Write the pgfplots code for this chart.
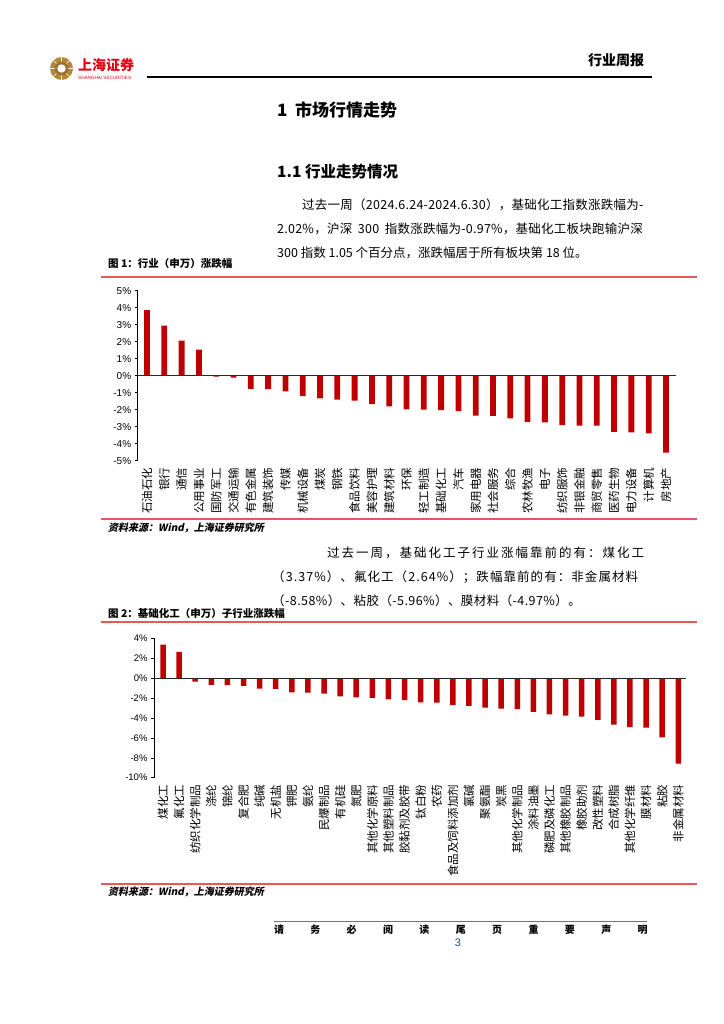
\documentclass[border=0pt]{standalone}
\usepackage{fontspec}
\setmainfont{Noto Sans CJK SC}
\newfontfamily\arial{Liberation Sans}
\newfontfamily\srcfont{Noto Sans CJK SC}[FakeSlant=0.2]
\usepackage{pgfplots}
\pgfplotsset{compat=1.18}
\usepackage{pgfplotstable}
\definecolor{barred}{RGB}{192,0,0}
\definecolor{linered}{RGB}{240,85,85}
\definecolor{gold}{RGB}{184,134,59}
\definecolor{logored}{RGB}{230,0,18}
\definecolor{pgblue}{RGB}{31,78,121}
\newcommand\fs[1]{\fontsize{#1bp}{#1bp}\selectfont}
\newcommand\ls[1]{\addfontfeature{LetterSpace=#1}}

\pgfplotstableread{
x y
0 3.86
1 2.94
2 2.06
3 1.53
4 -0.06
5 -0.12
6 -0.78
7 -0.79
8 -0.92
9 -1.20
10 -1.33
11 -1.41
12 -1.47
13 -1.67
14 -1.80
15 -1.98
16 -2.00
17 -2.02
18 -2.08
19 -2.35
20 -2.36
21 -2.51
22 -2.71
23 -2.75
24 -2.90
25 -2.93
26 -2.94
27 -3.31
28 -3.33
29 -3.39
30 -4.53
}\tabA

\pgfplotstableread{
x y
0 3.37
1 2.64
2 -0.34
3 -0.68
4 -0.71
5 -0.78
6 -1.05
7 -1.08
8 -1.42
9 -1.46
10 -1.56
11 -1.83
12 -1.93
13 -1.97
14 -2.14
15 -2.20
16 -2.44
17 -2.47
18 -2.71
19 -2.78
20 -2.95
21 -3.05
22 -3.12
23 -3.39
24 -3.63
25 -3.76
26 -3.86
27 -4.20
28 -4.68
29 -4.93
30 -4.97
31 -5.96
32 -8.58
}\tabB

\pgfplotsset{chg/.style={
  scale only axis,
  axis lines*=left,
  x axis line style={draw=none},
  y axis line style={black, line width=0.6bp},
  major x tick style={draw=none},
  major y tick style={black, line width=0.5bp},
  tick align=outside,
  major tick length=3bp,
  yticklabel={\pgfmathprintnumber{\tick}\%},
  /pgf/number format/assume math mode=true,
  y tick label style={font=\arial\fs{10}},
  x tick label style={rotate=90, anchor=east, font=\fs{11.5}, inner sep=1bp},
  xticklabel shift=3bp,
  clip=false,
}}

\begin{document}
\begin{tikzpicture}
\path[use as bounding box] (0,0) rectangle (724bp,-1024bp);
\fill[white] (0,0) rectangle (724bp,-1024bp);

\begin{scope}[x=1bp,y=-1bp]
% header
\fill[gold] (61.5,68.5) circle (11.5);
\foreach \a in {0,45,...,315} \draw[white, line width=0.6bp] (61.5,68.5) -- ++(\a:11.5);
\fill[gold!85!black] (61.5,68.5) circle (7);
\fill[white] (61.5,68.5) circle (4.2);
\node[anchor=west, inner sep=0, text=logored, font=\fs{14}\bfseries] at (78,65) {上海证券};
\node[anchor=west, inner sep=0, text=logored, font=\arial\fs{4.6}] at (78,77.5) {SHANGHAI SECURITIES};
\node[anchor=west, inner sep=0, font=\fs{14}\bfseries] at (588,60) {行业周报};
\draw[line width=1.6bp] (147,77) -- (652,77);

\node[anchor=west, inner sep=0, font=\fs{17}\bfseries] at (277,110) {1\hspace{0.45em}市场行情走势};
\node[anchor=west, inner sep=0, font=\fs{15.5}\bfseries] at (277,172) {1.1 行业走势情况};

\node[anchor=west, inner sep=0, font=\fs{12.5}\ls{2}] at (302,205) {过去一周（2024.6.24-2024.6.30），基础化工指数涨跌幅为-};
\node[anchor=west, inner sep=0, font=\fs{12.5}\ls{2}] at (277,229) {2.02\%，沪深\hspace{0.45em}300\hspace{0.45em}指数涨跌幅为-0.97\%，基础化工板块跑输沪深};
\node[anchor=west, inner sep=0, font=\fs{12.5}] at (277,253) {300 指数 1.05 个百分点，涨跌幅居于所有板块第 18 位。};

\node[anchor=west, inner sep=0, font=\fs{10.5}\bfseries] at (108,264) {图 1：行业（申万）涨跌幅};
\draw[linered, line width=1.2bp] (101,277) -- (697,277);

\draw[linered, line width=1.2bp] (101,519) -- (697,519);
\node[anchor=west, inner sep=0, font=\srcfont\bfseries\fs{10}] at (108,528) {资料来源：Wind，上海证券研究所};

\node[anchor=west, inner sep=0, font=\fs{12.5}\ls{16}] at (327,553) {过去一周，基础化工子行业涨幅靠前的有：煤化工};
\node[anchor=west, inner sep=0, font=\fs{12.5}\ls{8.5}] at (272,577) {（3.37\%）、氟化工（2.64\%）；跌幅靠前的有：非金属材料};
\node[anchor=west, inner sep=0, font=\fs{12.5}\ls{3.4}] at (272,601) {（-8.58\%）、粘胶（-5.96\%）、膜材料（-4.97\%）。};

\node[anchor=west, inner sep=0, font=\fs{10.5}\bfseries] at (108,614) {图 2：基础化工（申万）子行业涨跌幅};
\draw[linered, line width=1.2bp] (101,622) -- (697,622);

\draw[linered, line width=1.2bp] (101,884) -- (697,884);
\node[anchor=west, inner sep=0, font=\srcfont\bfseries\fs{10}] at (108,892) {资料来源：Wind，上海证券研究所};

% footer
\draw[black!55, line width=1bp] (274,921) -- (647,921);
\foreach \c [count=\i from 0] in {请,务,必,阅,读,尾,页,重,要,声,明}
  \node[inner sep=0, font=\fs{10}\bfseries] at ({279+36.37*\i},930) {\c};
\node[inner sep=0, text=pgblue, font=\arial\fs{11}] at (458,943) {3};
\end{scope}

% chart 1
\begin{axis}[chg,
  at={(137.7bp,-460.7bp)}, anchor=south west,
  width=538.3bp, height=170bp,
  xmin=-0.54, xmax=30.58, ymin=-5, ymax=5,
  ytick={-5,-4,...,5},
  xtick={0,1,...,30},
  xticklabels={石油石化,银行,通信,公用事业,国防军工,交通运输,有色金属,建筑装饰,传媒,机械设备,煤炭,钢铁,食品饮料,美容护理,建筑材料,环保,轻工制造,基础化工,汽车,家用电器,社会服务,综合,农林牧渔,电子,纺织服饰,非银金融,商贸零售,医药生物,电力设备,计算机,房地产},
]
\addplot[ybar, bar width=5.8bp, fill=barred, draw=none] table[x=x,y=y]{\tabA};
\addplot[black!85, line width=0.6bp, forget plot] coordinates {(-0.54,0) (30.58,0)};
\end{axis}

% chart 2
\begin{axis}[chg,
  at={(154bp,-777.7bp)}, anchor=south west,
  width=532bp, height=139.4bp,
  xmin=-0.56, xmax=32.48, ymin=-10, ymax=4,
  ytick={-10,-8,...,4},
  y tick label style={font=\arial\fs{9.5}},
  xtick={0,1,...,32},
  xticklabels={煤化工,氟化工,纺织化学制品,涤纶,锦纶,复合肥,纯碱,无机盐,钾肥,氨纶,民爆制品,有机硅,氮肥,其他化学原料,其他塑料制品,胶黏剂及胶带,钛白粉,农药,食品及饲料添加剂,氯碱,聚氨酯,炭黑,其他化学制品,涂料油墨,磷肥及磷化工,其他橡胶制品,橡胶助剂,改性塑料,合成树脂,其他化学纤维,膜材料,粘胶,非金属材料},
]
\addplot[ybar, bar width=5.5bp, fill=barred, draw=none] table[x=x,y=y]{\tabB};
\addplot[black!85, line width=0.6bp, forget plot] coordinates {(-0.56,0) (32.48,0)};
\end{axis}
\end{tikzpicture}
\end{document}
